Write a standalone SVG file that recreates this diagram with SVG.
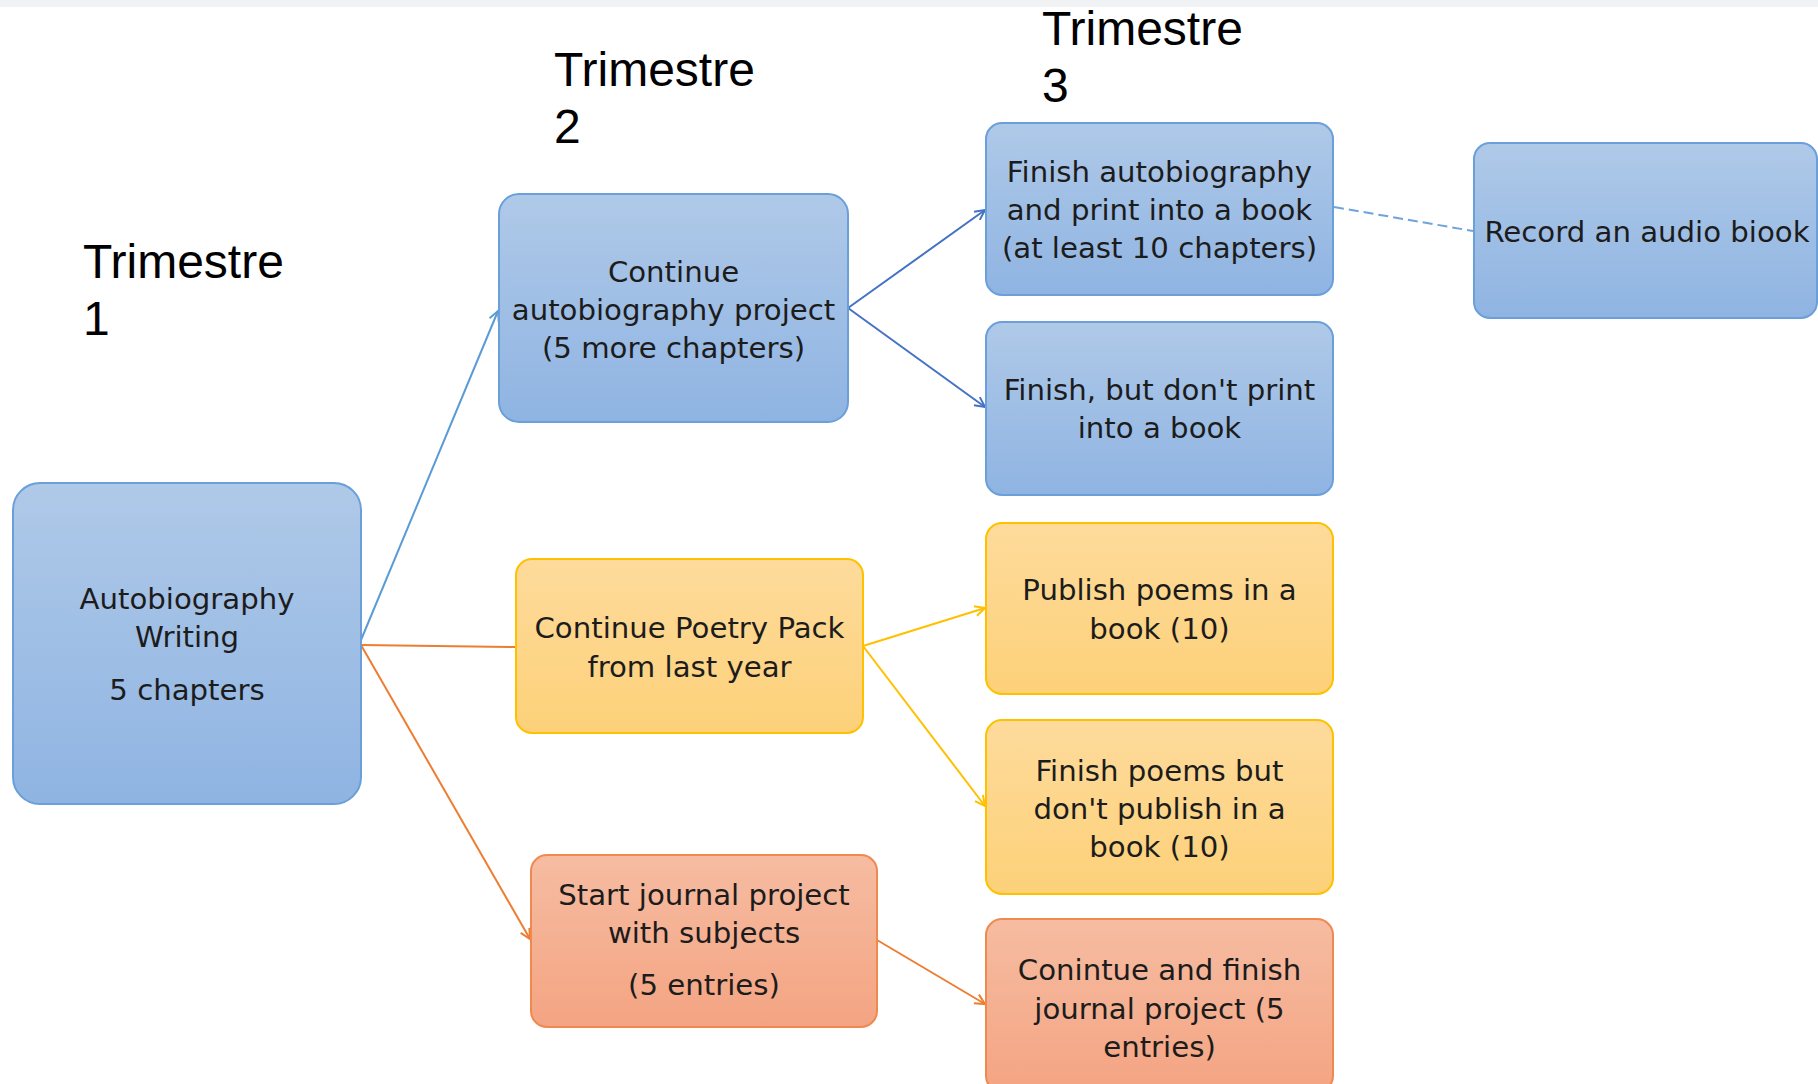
<svg xmlns="http://www.w3.org/2000/svg" width="1818" height="1084" viewBox="0 0 1818 1084">
<defs>
<linearGradient id="gBlue" x1="0" y1="0" x2="0" y2="1"><stop offset="0" stop-color="#afc9e8"/><stop offset="1" stop-color="#8fb4e2"/></linearGradient>
<linearGradient id="gYellow" x1="0" y1="0" x2="0" y2="1"><stop offset="0" stop-color="#fedb9c"/><stop offset="1" stop-color="#fdd179"/></linearGradient>
<linearGradient id="gSalmon" x1="0" y1="0" x2="0" y2="1"><stop offset="0" stop-color="#f6bca2"/><stop offset="1" stop-color="#f4a482"/></linearGradient>
<marker id="aLightBlue" markerUnits="userSpaceOnUse" markerWidth="12" markerHeight="12" viewBox="0 0 12 12" refX="11" refY="6" orient="auto"><path d="M1,1 L11,6 L1,11" fill="none" stroke="#5b9bd5" stroke-width="2"/></marker>
<marker id="aBlue" markerUnits="userSpaceOnUse" markerWidth="12" markerHeight="12" viewBox="0 0 12 12" refX="11" refY="6" orient="auto"><path d="M1,1 L11,6 L1,11" fill="none" stroke="#4472c4" stroke-width="2"/></marker>
<marker id="aYellow" markerUnits="userSpaceOnUse" markerWidth="12" markerHeight="12" viewBox="0 0 12 12" refX="11" refY="6" orient="auto"><path d="M1,1 L11,6 L1,11" fill="none" stroke="#ffc000" stroke-width="2"/></marker>
<marker id="aOrange" markerUnits="userSpaceOnUse" markerWidth="12" markerHeight="12" viewBox="0 0 12 12" refX="11" refY="6" orient="auto"><path d="M1,1 L11,6 L1,11" fill="none" stroke="#ed7d31" stroke-width="2"/></marker>
<style>
.blue{fill:url(#gBlue);stroke:#6a9fd9;stroke-width:2}
.yellow{fill:url(#gYellow);stroke:#ffc000;stroke-width:2}
.salmon{fill:url(#gSalmon);stroke:#ef8a4f;stroke-width:2}
.lbl{font-family:"DejaVu Sans","Liberation Sans",sans-serif;font-size:29.2px;fill:#1c1c1c;text-anchor:middle}
.tri{font-family:"Liberation Sans",sans-serif;font-size:48px;fill:#000}
.c{fill:none;stroke-width:2}
</style>
</defs>
<rect x="0" y="0" width="1818" height="1084" fill="#ffffff"/>
<rect x="0" y="0" width="1818" height="7" fill="#f1f2f4"/>

<g id="titles">
<text class="tri" x="83" y="278">Trimestre<tspan x="83" y="335">1</tspan></text>
<text class="tri" x="554" y="86">Trimestre<tspan x="554" y="143">2</tspan></text>
<text class="tri" x="1042" y="45">Trimestre<tspan x="1042" y="102">3</tspan></text>
</g>

<g id="connectors">
<line class="c" x1="361" y1="640" x2="498" y2="311" stroke="#5b9bd5" marker-end="url(#aLightBlue)"/>
<line class="c" x1="361" y1="645" x2="516" y2="647" stroke="#ed7d31"/>
<line class="c" x1="361" y1="645" x2="530" y2="939" stroke="#ed7d31" marker-end="url(#aOrange)"/>
<line class="c" x1="848" y1="308" x2="985" y2="210" stroke="#4472c4" marker-end="url(#aBlue)"/>
<line class="c" x1="848" y1="308" x2="985" y2="407" stroke="#4472c4" marker-end="url(#aBlue)"/>
<line class="c" x1="863" y1="646" x2="985" y2="608" stroke="#ffc000" marker-end="url(#aYellow)"/>
<line class="c" x1="863" y1="646" x2="985" y2="806" stroke="#ffc000" marker-end="url(#aYellow)"/>
<line class="c" x1="877" y1="940" x2="985" y2="1004" stroke="#ed7d31" marker-end="url(#aOrange)"/>
<line class="c" x1="1334" y1="207" x2="1473" y2="231" stroke="#6fa3dc" stroke-width="2.5" stroke-dasharray="10 5"/>
</g>

<g id="n-autobiography">
<rect class="blue" x="13" y="483" width="348" height="321" rx="27" ry="27"/>
<text class="lbl" x="187" y="609">Autobiography<tspan x="187" y="647">Writing</tspan><tspan x="187" y="700">5 chapters</tspan></text>
</g>

<g id="n-continue-auto">
<rect class="blue" x="499" y="194" width="349" height="228" rx="20" ry="20"/>
<text class="lbl" x="673.5" y="282">Continue<tspan x="673.5" y="320">autobiography project</tspan><tspan x="673.5" y="358">(5 more chapters)</tspan></text>
</g>

<g id="n-poetry">
<rect class="yellow" x="516" y="559" width="347" height="174" rx="16" ry="16"/>
<text class="lbl" x="689.5" y="638">Continue Poetry Pack<tspan x="689.5" y="677">from last year</tspan></text>
</g>

<g id="n-journal">
<rect class="salmon" x="531" y="855" width="346" height="172" rx="16" ry="16"/>
<text class="lbl" x="704" y="905">Start journal project<tspan x="704" y="943">with subjects</tspan><tspan x="704" y="995">(5 entries)</tspan></text>
</g>

<g id="n-finish-print">
<rect class="blue" x="986" y="123" width="347" height="172" rx="16" ry="16"/>
<text class="lbl" x="1159.5" y="182">Finish autobiography<tspan x="1159.5" y="220">and print into a book</tspan><tspan x="1159.5" y="258">(at least 10 chapters)</tspan></text>
</g>

<g id="n-finish-noprint">
<rect class="blue" x="986" y="322" width="347" height="173" rx="16" ry="16"/>
<text class="lbl" x="1159.5" y="400">Finish, but don't print<tspan x="1159.5" y="438">into a book</tspan></text>
</g>

<g id="n-publish">
<rect class="yellow" x="986" y="523" width="347" height="171" rx="16" ry="16"/>
<text class="lbl" x="1159.5" y="600">Publish poems in a<tspan x="1159.5" y="639">book (10)</tspan></text>
</g>

<g id="n-finish-poems">
<rect class="yellow" x="986" y="720" width="347" height="174" rx="16" ry="16"/>
<text class="lbl" x="1159.5" y="781">Finish poems but<tspan x="1159.5" y="819">don't publish in a</tspan><tspan x="1159.5" y="857">book (10)</tspan></text>
</g>

<g id="n-finish-journal">
<rect class="salmon" x="986" y="919" width="347" height="173" rx="16" ry="16"/>
<text class="lbl" x="1159.5" y="980">Conintue and finish<tspan x="1159.5" y="1019">journal project (5</tspan><tspan x="1159.5" y="1057">entries)</tspan></text>
</g>

<g id="n-audio">
<rect class="blue" x="1474" y="143" width="343" height="175" rx="16" ry="16"/>
<text class="lbl" x="1647" y="242">Record an audio biook</text>
</g>
</svg>
